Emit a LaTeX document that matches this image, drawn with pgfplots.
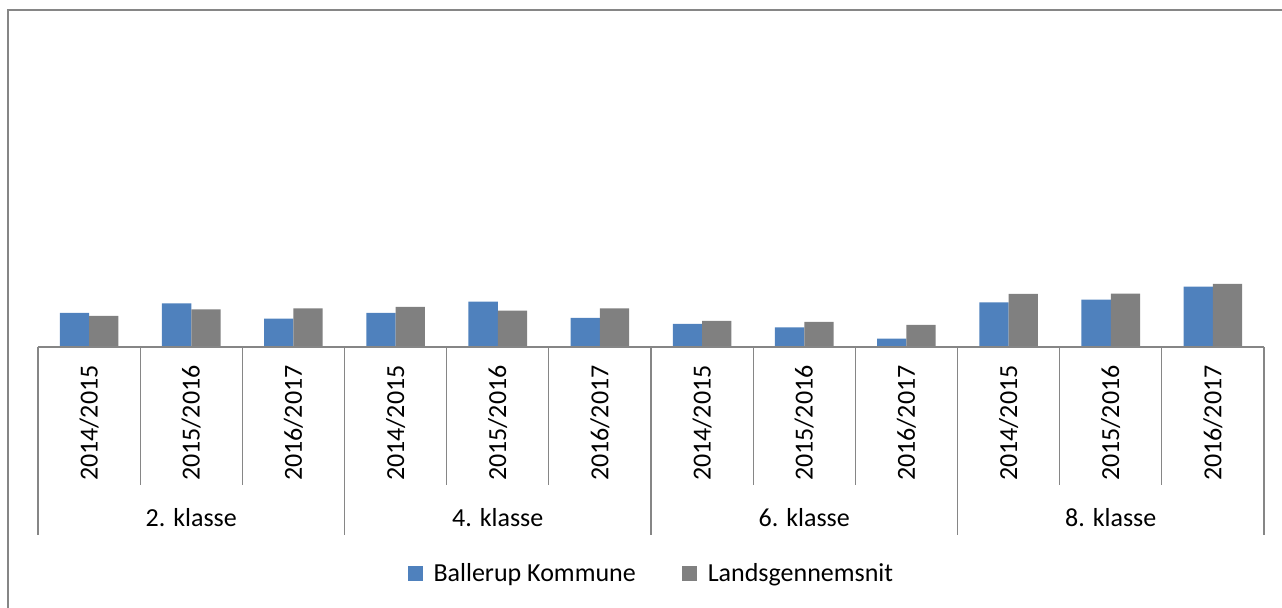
\documentclass[border=0pt]{standalone}
\usepackage{pgfplots}
\pgfplotsset{compat=1.18}
\usepackage{fontspec}
\setmainfont{Carlito}
\definecolor{bblue}{HTML}{4F81BD}
\definecolor{bgray}{HTML}{808080}
\definecolor{lgray}{HTML}{868686}
\begin{document}
\fontsize{13pt}{15pt}\selectfont
\begin{tikzpicture}
\path[use as bounding box] (0,0) rectangle (641pt,304pt);
\draw[lgray, line width=0.8pt] (4pt,0) -- (4pt,299pt) -- (641pt,299pt);
\begin{axis}[
  at={(19pt,130.5pt)}, anchor=south west,
  width=613pt, height=163.5pt, scale only axis,
  xmin=-0.5, xmax=11.5, ymin=0, ymax=327,
  axis lines=none, xtick=\empty, ytick=\empty,
  clip=false,
  ybar, bar width=0.287,
  legend style={at={(axis cs:5.513,-227)}, anchor=center, draw=none, fill=none,
    legend columns=2, font=\fontsize{13pt}{15pt}\selectfont,
    /tikz/every odd column/.append style={column sep=3.5pt},
    /tikz/every even column/.append style={column sep=21pt}},
  legend image code/.code={\fill[#1] (0pt,-3.75pt) rectangle (7.5pt,3.75pt);},
]
\addplot[fill=bblue, draw=none, bar shift=-0.1435] coordinates {
(0,34) (1,43.7) (2,28.3) (3,34) (4,45.3) (5,29) (6,23) (7,19.7) (8,8.3) (9,44.7) (10,47.3) (11,60.3)};
\addplot[fill=bgray, draw=none, bar shift=0.1435] coordinates {
(0,31) (1,37.7) (2,38.7) (3,40) (4,36.3) (5,38.7) (6,26) (7,25) (8,22) (9,53) (10,53.3) (11,63)};
\legend{Ballerup Kommune, Landsgennemsnit}
% axis and separators
\draw[lgray, line width=0.6pt] (axis cs:-0.5,0) -- (axis cs:11.5,0);
\draw[lgray, line width=0.6pt] (axis cs:0.5,0) -- (axis cs:0.5,-138);
\draw[lgray, line width=0.6pt] (axis cs:1.5,0) -- (axis cs:1.5,-138);
\draw[lgray, line width=0.6pt] (axis cs:3.5,0) -- (axis cs:3.5,-138);
\draw[lgray, line width=0.6pt] (axis cs:4.5,0) -- (axis cs:4.5,-138);
\draw[lgray, line width=0.6pt] (axis cs:6.5,0) -- (axis cs:6.5,-138);
\draw[lgray, line width=0.6pt] (axis cs:7.5,0) -- (axis cs:7.5,-138);
\draw[lgray, line width=0.6pt] (axis cs:9.5,0) -- (axis cs:9.5,-138);
\draw[lgray, line width=0.6pt] (axis cs:10.5,0) -- (axis cs:10.5,-138);
\draw[lgray, line width=0.6pt] (axis cs:-0.5,0) -- (axis cs:-0.5,-188);
\draw[lgray, line width=0.6pt] (axis cs:2.5,0) -- (axis cs:2.5,-188);
\draw[lgray, line width=0.6pt] (axis cs:5.5,0) -- (axis cs:5.5,-188);
\draw[lgray, line width=0.6pt] (axis cs:8.5,0) -- (axis cs:8.5,-188);
\draw[lgray, line width=0.6pt] (axis cs:11.5,0) -- (axis cs:11.5,-188);
% year labels
\node[rotate=90, anchor=east, inner sep=0pt] at (axis cs:0,-18) {2014/2015};
\node[rotate=90, anchor=east, inner sep=0pt] at (axis cs:1,-18) {2015/2016};
\node[rotate=90, anchor=east, inner sep=0pt] at (axis cs:2,-18) {2016/2017};
\node[rotate=90, anchor=east, inner sep=0pt] at (axis cs:3,-18) {2014/2015};
\node[rotate=90, anchor=east, inner sep=0pt] at (axis cs:4,-18) {2015/2016};
\node[rotate=90, anchor=east, inner sep=0pt] at (axis cs:5,-18) {2016/2017};
\node[rotate=90, anchor=east, inner sep=0pt] at (axis cs:6,-18) {2014/2015};
\node[rotate=90, anchor=east, inner sep=0pt] at (axis cs:7,-18) {2015/2016};
\node[rotate=90, anchor=east, inner sep=0pt] at (axis cs:8,-18) {2016/2017};
\node[rotate=90, anchor=east, inner sep=0pt] at (axis cs:9,-18) {2014/2015};
\node[rotate=90, anchor=east, inner sep=0pt] at (axis cs:10,-18) {2015/2016};
\node[rotate=90, anchor=east, inner sep=0pt] at (axis cs:11,-18) {2016/2017};
% group labels
\node[anchor=base, inner sep=0pt] at (axis cs:1,-180) {2. klasse};
\node[anchor=base, inner sep=0pt] at (axis cs:4,-180) {4. klasse};
\node[anchor=base, inner sep=0pt] at (axis cs:7,-180) {6. klasse};
\node[anchor=base, inner sep=0pt] at (axis cs:10,-180) {8. klasse};
\end{axis}
\end{tikzpicture}
\end{document}
